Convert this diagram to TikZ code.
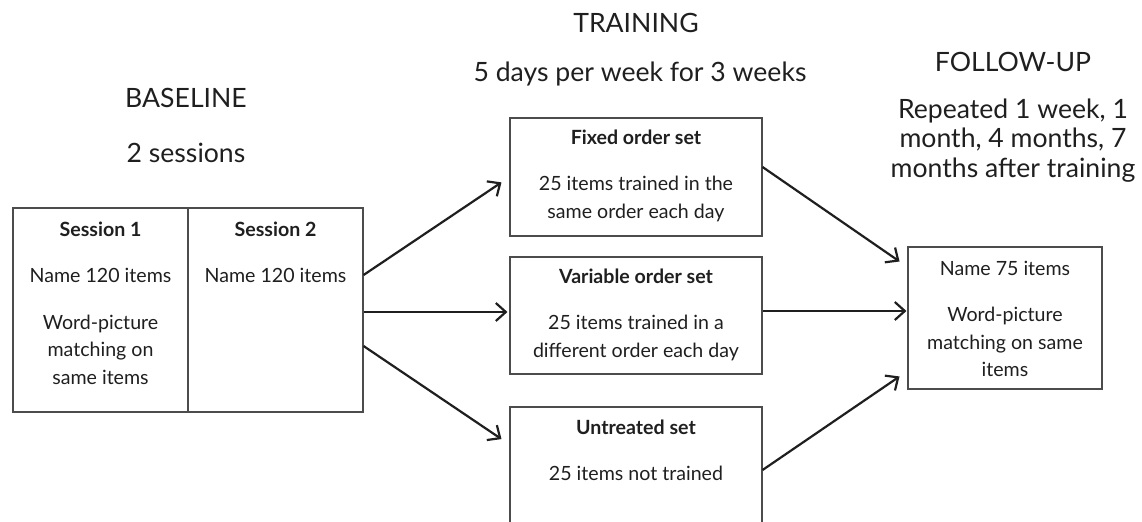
\documentclass[tikz,border=0pt]{standalone}
\usepackage{fontspec}
\setmainfont{Lato}
\usepackage{tikz}
\usetikzlibrary{calc}
\usetikzlibrary{arrows.meta}
\usetikzlibrary{positioning}
\tikzset{cell/.style={draw=black!70,line width=0.55pt,inner sep=0pt}}
\tikzset{body/.style={align=center,anchor=north,inner sep=0pt,text=black!88,font=\fontsize{9.8}{13.75}\selectfont}}
\tikzset{head/.style={align=center,inner sep=0pt,text=black!88,font=\fontsize{13.3}{14.75}\selectfont}}
\tikzset{flow/.style={-{Straight Barb[length=5pt,width=9pt]},line width=1.1pt,black!88}}

\begin{document}
\begin{tikzpicture}[x=0.5pt,y=-0.5pt]
\useasboundingbox (0,0) rectangle (1142,521);
\clip (0,0) rectangle (1142,521);

% headings
\node[head,anchor=base](H1) at (186,107.5){BASELINE};
\node[head,anchor=base](H2) at (186,162.5){2 sessions};
\node[head,anchor=base](H3) at (636,32.5){TRAINING};
\node[head,anchor=base](H4) at (640,81.5){5 days per week for 3 weeks};
\node[head,anchor=base](H5) at (1013,71.5){FOLLOW-UP};
\node[head,anchor=north](H6) at (1013,98.5){Repeated 1 week, 1\\ month, 4 months, 7\\ months after training};

% boxes
\node[cell,minimum width=87.5pt,minimum height=102pt](S1) at (100.5,310){};
\node[cell,minimum width=87.5pt,minimum height=102pt](S2) at (275.5,310){};
\node[cell,minimum width=126pt,minimum height=59pt](FX) at (636,177){};
\node[cell,minimum width=126pt,minimum height=58.5pt](VR) at (636,315.5){};
\node[cell,minimum width=126pt,minimum height=59pt](UT) at (636,466){};
\node[cell,minimum width=97pt,minimum height=71pt](FU) at (1005,318){};

% box texts
\node[body](S1t) at ($(S1.north)+(0,14)$){\textbf{Session 1}\\[9.5pt] Name 120 items\\[9.5pt] Word-picture\\ matching on\\ same items};
\node[body](S2t) at ($(S2.north)+(0,14)$){\textbf{Session 2}\\[9.5pt] Name 120 items};
\node[body](FXt) at ($(FX.north)+(0,12)$){\textbf{Fixed order set}\\[9.5pt] 25 items trained in the\\ same order each day};
\node[body](VRt) at ($(VR.north)+(0,12)$){\textbf{Variable order set}\\[9.5pt] 25 items trained in a\\ different order each day};
\node[body](UTt) at ($(UT.north)+(0,13)$){\textbf{Untreated set}\\[9.5pt] 25 items not trained};
\node[body](FUt) at ($(FU.north)+(0,14)$){Name 75 items\\[9.5pt] Word-picture\\ matching on same\\ items};

% arrows
\coordinate (m1) at ($(S2.east)+(0,2)$);
\coordinate (m2) at ($(VR.east)+(0,-4.5)$);
\draw[flow,shorten >=4.8pt] ($(S2.east)+(0,-35)$) -- (FX.west);
\draw[flow,shorten >=1pt] (m1) -- (m1 -| VR.west);
\draw[flow,shorten >=4.8pt] ($(S2.east)+(0,36)$) -- ($(UT.north west)+(0,38)$);
\draw[flow,shorten >=4.8pt] ($(FX.east)+(0,-10)$) -- ($(FU.north west)+(0,20.5)$);
\draw[flow,shorten >=0.5pt] (m2) -- (m2 -| FU.west);
\draw[flow,shorten >=4.8pt] ($(UT.east)+(0,4)$) -- ($(FU.south west)+(0,-18.5)$);
\end{tikzpicture}
\end{document}
